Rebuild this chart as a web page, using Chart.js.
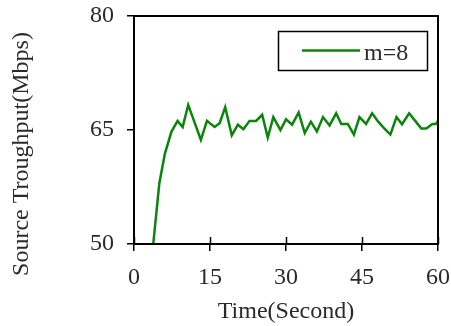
<!DOCTYPE html>
<html>
<head>
<meta charset="utf-8">
<script src="https://cdn.jsdelivr.net/npm/chart.js@4/dist/chart.umd.min.js"></script>
<style>
html,body{margin:0;padding:0;background:#fff;}
#wrap{width:451px;height:326px;position:relative;}
</style>
</head>
<body>
<div id="wrap"><canvas id="c" width="451" height="326"></canvas></div>
<script>
// Data
const seriesLabel = "m=8";
const times = [3.8, 5.0, 6.1, 7.4, 8.6, 9.6, 10.7, 13.2, 14.4, 15.9, 16.9, 18.0, 19.3, 20.5, 21.6, 22.8, 24.1, 25.3, 26.4, 27.5, 28.9, 30.0, 31.2, 32.5, 33.7, 34.9, 36.1, 37.3, 38.6, 39.9, 40.9, 42.2, 43.4, 44.5, 45.8, 47.0, 48.2, 49.4, 50.6, 51.8, 52.9, 54.3, 55.5, 56.7, 57.7, 58.9, 59.6, 60.0];
const throughput = [50, 58.0, 61.9, 64.8, 66.2, 65.4, 68.3, 63.7, 66.2, 65.4, 65.9, 68.0, 64.3, 65.7, 65.1, 66.2, 66.2, 67.0, 64.0, 66.7, 65.0, 66.4, 65.7, 67.3, 64.6, 66.1, 64.8, 66.7, 65.6, 67.2, 65.8, 65.8, 64.4, 66.7, 65.8, 67.2, 66.1, 65.2, 64.4, 66.7, 65.75, 67.2, 66.2, 65.2, 65.2, 65.8, 65.8, 66.2];
const xTicks = [0, 15, 30, 45, 60];
const yTicks = [50, 65, 80];
const xTitle = "Time(Second)";
const yTitle = "Source Troughput(Mbps)";

const FONT = "'Liberation Serif', 'Times New Roman', serif";
const FS = 24;
const TXT = "#2a2a2a";
const GREEN = "#0a850a";

const pts = times.map((t, i) => ({x: t, y: throughput[i]}));

function noPad(s) {
  s.paddingTop = 0; s.paddingBottom = 0; s.paddingLeft = 0; s.paddingRight = 0;
}

const extras = {
  id: 'extras',
  afterDatasetsDraw(chart) {
    const {ctx, chartArea: a, scales} = chart;
    ctx.save();
    // frame
    ctx.strokeStyle = '#000';
    ctx.lineWidth = 2;
    ctx.strokeRect(a.left, a.top, a.right - a.left, a.bottom - a.top);
    // inner x ticks
    ctx.lineWidth = 1.5;
    xTicks.forEach(v => {
      const px = Math.round(scales.x.getPixelForValue(v)) + 0.5;
      ctx.beginPath();
      ctx.moveTo(px, a.bottom);
      ctx.lineTo(px, a.bottom - 7);
      ctx.stroke();
    });
    // legend box
    const ds = chart.data.datasets[0];
    const lx = 278.5, ly = 31.5, lw = 149, lh = 39;
    ctx.fillStyle = '#fff';
    ctx.fillRect(lx, ly, lw, lh);
    ctx.strokeStyle = '#000';
    ctx.lineWidth = 1.5;
    ctx.strokeRect(lx, ly, lw, lh);
    ctx.strokeStyle = ds.borderColor;
    ctx.lineWidth = ds.borderWidth;
    ctx.beginPath();
    ctx.moveTo(302, 50.5);
    ctx.lineTo(360, 50.5);
    ctx.stroke();
    ctx.fillStyle = TXT;
    ctx.font = FS + "px " + FONT;
    ctx.textAlign = 'left';
    ctx.textBaseline = 'alphabetic';
    ctx.fillText(ds.label, 364, 60);
    // y title
    ctx.translate(22, 154);
    ctx.rotate(-Math.PI / 2);
    ctx.textAlign = 'center';
    ctx.textBaseline = 'middle';
    ctx.fillText(yTitle, 0, 0);
    ctx.restore();
  }
};

new Chart(document.getElementById('c'), {
  type: 'line',
  data: {
    datasets: [{
      label: seriesLabel,
      data: pts,
      borderColor: GREEN,
      borderWidth: 2.5,
      pointRadius: 0,
      tension: 0,
      fill: false
    }]
  },
  options: {
    responsive: false,
    animation: false,
    layout: {padding: {left: 0, right: 13, top: 16, bottom: 0}},
    plugins: {legend: {display: false}, tooltip: {enabled: false}},
    scales: {
      x: {
        type: 'linear', min: 0, max: 60,
        afterBuildTicks: s => { s.ticks = xTicks.map(v => ({value: v})); },
        afterFit: s => { s.height = 82; noPad(s); },
        border: {display: false},
        grid: {drawOnChartArea: false, drawTicks: true, tickLength: 7, color: '#000', lineWidth: 1.5},
        ticks: {padding: 12, color: TXT, font: {family: FONT, size: FS}, maxRotation: 0},
        title: {display: true, text: xTitle, color: TXT, font: {family: FONT, size: FS}, padding: {top: 0, bottom: 0}}
      },
      y: {
        type: 'linear', min: 50, max: 80,
        afterBuildTicks: s => { s.ticks = yTicks.map(v => ({value: v})); },
        afterFit: s => { s.width = 134; noPad(s); },
        border: {display: false},
        grid: {drawOnChartArea: false, drawTicks: true, tickLength: 7, color: '#000', lineWidth: 1.5},
        ticks: {padding: 13, color: TXT, font: {family: FONT, size: FS}}
      }
    }
  },
  plugins: [extras]
});
</script>
</body>
</html>
